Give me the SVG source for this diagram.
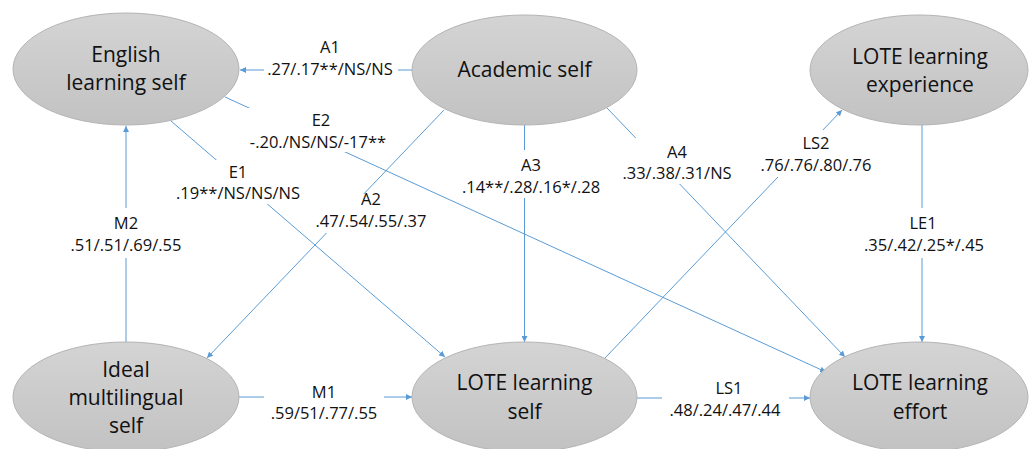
<svg xmlns="http://www.w3.org/2000/svg" width="1030" height="449" viewBox="0 0 1030 449">
<style>
.node ellipse{fill:url(#g);stroke:#b4b4b4;stroke-width:1}
.nt{font-family:"Open Sans","Noto Sans",sans-serif;font-size:21px;fill:#111;text-anchor:middle}
.lt{font-family:"Open Sans","Noto Sans",sans-serif;font-size:16.5px;fill:#111;text-anchor:middle}
.edge{stroke:#5b9bd5;stroke-width:1;fill:none;marker-end:url(#ah)}
.bg{fill:#fff}
</style>
<defs>
<linearGradient id="g" x1="0" y1="0" x2="0" y2="1">
<stop offset="0" stop-color="#d4d4d4"/>
<stop offset="1" stop-color="#c2c2c2"/>
</linearGradient>
<marker id="ah" viewBox="0 0 10 10" refX="10" refY="5" markerWidth="6" markerHeight="6" markerUnits="userSpaceOnUse" orient="auto">
<path d="M0,0 L10,5 L0,10 z" fill="#5b9bd5"/>
</marker>
</defs>
<rect width="1030" height="449" fill="#fff"/>
<g id="connectors">
<line class="edge" x1="412" y1="70" x2="240" y2="70"/>
<line class="edge" x1="225" y1="97" x2="826" y2="372"/>
<line class="edge" x1="171" y1="121" x2="445" y2="357"/>
<line class="edge" x1="126" y1="342" x2="126" y2="126"/>
<line class="edge" x1="444" y1="110" x2="207" y2="358"/>
<line class="edge" x1="524.5" y1="125" x2="524.5" y2="342"/>
<line class="edge" x1="607" y1="108" x2="845" y2="357"/>
<line class="edge" x1="605" y1="358" x2="842" y2="110"/>
<line class="edge" x1="922" y1="125" x2="922" y2="342"/>
<line class="edge" x1="239" y1="397" x2="412" y2="397"/>
<line class="edge" x1="637" y1="398" x2="810" y2="398"/>
</g>
<g id="labels">
<rect class="bg" x="264" y="36" width="134" height="44"/>
<text class="lt" x="330" y="53">A1</text>
<text class="lt" x="330" y="75">.27/.17**/NS/NS</text>
<rect class="bg" x="246" y="108" width="144" height="44"/>
<text class="lt" x="321" y="126">E2</text>
<text class="lt" x="318" y="148">-.20./NS/NS/-17**</text>
<rect class="bg" x="174" y="160" width="128" height="44"/>
<text class="lt" x="238" y="178">E1</text>
<text class="lt" x="238" y="199">.19**/NS/NS/NS</text>
<rect class="bg" x="66" y="208" width="120" height="50"/>
<text class="lt" x="126" y="229">M2</text>
<text class="lt" x="126" y="251">.51/.51/.69/.55</text>
<rect class="bg" x="311" y="194" width="119" height="39"/>
<text class="lt" x="371" y="205">A2</text>
<text class="lt" x="371" y="227">.47/.54/.55/.37</text>
<rect class="bg" x="458" y="150" width="148" height="48"/>
<text class="lt" x="531" y="171">A3</text>
<text class="lt" x="531" y="193">.14**/.28/.16*/.28</text>
<rect class="bg" x="619" y="138" width="116" height="46"/>
<text class="lt" x="677" y="158">A4</text>
<text class="lt" x="677" y="179">.33/.38/.31/NS</text>
<rect class="bg" x="756" y="130" width="120" height="47"/>
<text class="lt" x="816" y="149">LS2</text>
<text class="lt" x="816" y="171">.76/.76/.80/.76</text>
<rect class="bg" x="858" y="208" width="132" height="50"/>
<text class="lt" x="923" y="229">LE1</text>
<text class="lt" x="924" y="251">.35/.42/.25*/.45</text>
<rect class="bg" x="264" y="378" width="120" height="47"/>
<text class="lt" x="324" y="398">M1</text>
<text class="lt" x="324" y="419">.59/51/.77/.55</text>
<rect class="bg" x="662" y="374" width="127" height="48"/>
<text class="lt" x="729" y="394">LS1</text>
<text class="lt" x="725" y="416">.48/.24/.47/.44</text>
</g>
<g id="english" class="node">
<ellipse cx="126" cy="69" rx="113" ry="56"/>
<text class="nt" x="126" y="62">English</text>
<text class="nt" x="126" y="90">learning self</text>
</g>
<g id="academic" class="node">
<ellipse cx="524.5" cy="70" rx="112.5" ry="55"/>
<text class="nt" x="524.5" y="77">Academic self</text>
</g>
<g id="experience" class="node">
<ellipse cx="919" cy="70" rx="109" ry="55"/>
<text class="nt" x="920" y="64">LOTE learning</text>
<text class="nt" x="920" y="92">experience</text>
</g>
<g id="ideal" class="node">
<ellipse cx="126" cy="397" rx="113" ry="55"/>
<text class="nt" x="126" y="377">Ideal</text>
<text class="nt" x="126" y="405">multilingual</text>
<text class="nt" x="126" y="433">self</text>
</g>
<g id="lote-self" class="node">
<ellipse cx="524.5" cy="397" rx="112.5" ry="55"/>
<text class="nt" x="524.5" y="390">LOTE learning</text>
<text class="nt" x="524.5" y="419">self</text>
</g>
<g id="effort" class="node">
<ellipse cx="919" cy="397" rx="109" ry="55"/>
<text class="nt" x="920" y="390">LOTE learning</text>
<text class="nt" x="920" y="419">effort</text>
</g>
</svg>
